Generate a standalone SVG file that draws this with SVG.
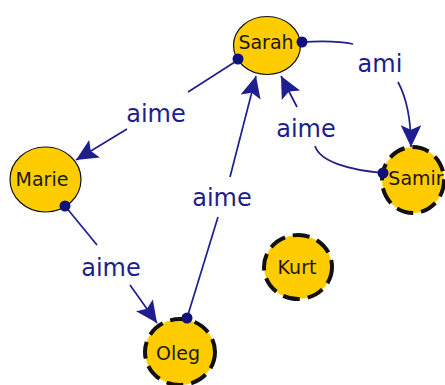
<svg xmlns="http://www.w3.org/2000/svg" width="445" height="385" viewBox="0 0 445 385">
  <style>
    .node { fill: #ffcc00; stroke: #111; stroke-width: 1.2; }
    .node.dashed { stroke-width: 4; stroke-dasharray: 17 8; }
    .name { font-family: "DejaVu Sans", Verdana, sans-serif; font-size: 19px; fill: #1a1a00; text-anchor: middle; }
    .edge { fill: none; stroke: #1e1e8e; stroke-width: 1.7; }
    .port { fill: #10107a; }
    .label { font-family: "DejaVu Sans", Verdana, sans-serif; font-size: 24px; fill: #1e1e8a; text-anchor: middle; }
  </style>
  <defs>
    <marker id="arrow" markerUnits="userSpaceOnUse" markerWidth="26" markerHeight="26" viewBox="-22 -11 24 22" refX="0" refY="0" orient="auto">
      <path d="M0,0 L-20,-9.5 L-16,0 L-20,9.5 Z" fill="#1e1e8e"/>
    </marker>
  </defs>

  <!-- nodes -->
  <g id="sarah">
    <ellipse class="node" cx="267" cy="45.5" rx="33.5" ry="29"/>
    <text class="name" x="266" y="49">Sarah</text>
  </g>
  <g id="marie">
    <ellipse class="node" cx="45.5" cy="179.5" rx="35.5" ry="32.5"/>
    <text class="name" x="42" y="186">Marie</text>
  </g>
  <g id="oleg">
    <ellipse class="node dashed" cx="180" cy="352" rx="35" ry="33"/>
    <text class="name" x="178" y="360">Oleg</text>
  </g>
  <g id="kurt">
    <ellipse class="node dashed" cx="298" cy="267" rx="34" ry="32"/>
    <text class="name" x="297" y="274">Kurt</text>
  </g>
  <g id="samir">
    <ellipse class="node dashed" cx="413" cy="180" rx="31" ry="33"/>
    <text class="name" x="416" y="185">Samir</text>
  </g>

  <!-- connectors -->
  <g id="connectors">
    <!-- Sarah aime Marie -->
    <path class="edge" d="M238,60 L188,92"/>
    <path class="edge" d="M127,129 L76,160" marker-end="url(#arrow)"/>
    <text class="label" x="156" y="122">aime</text>
    <circle class="port" cx="238" cy="59" r="5.5"/>

    <!-- Marie aime Oleg -->
    <path class="edge" d="M65,206 L97,245"/>
    <path class="edge" d="M130,285 L157,323" marker-end="url(#arrow)"/>
    <text class="label" x="111" y="276">aime</text>
    <circle class="port" cx="65" cy="206" r="5.5"/>

    <!-- Oleg aime Sarah -->
    <path class="edge" d="M187,318 L218,217"/>
    <path class="edge" d="M230,177 L256,76" marker-end="url(#arrow)"/>
    <text class="label" x="222" y="206">aime</text>
    <circle class="port" cx="187" cy="318" r="5.5"/>

    <!-- Samir aime Sarah -->
    <path class="edge" d="M383,173 C350,170 320,162 315,146"/>
    <path class="edge" d="M297,107 L281,76" marker-end="url(#arrow)"/>
    <text class="label" x="306" y="137">aime</text>
    <circle class="port" cx="383" cy="173" r="5.5"/>

    <!-- Sarah ami Samir -->
    <path class="edge" d="M302,42 C322,41 340,41 353,44"/>
    <path class="edge" d="M398,82 C405,95 411,115 411,147" marker-end="url(#arrow)"/>
    <text class="label" x="380" y="72">ami</text>
    <circle class="port" cx="302" cy="42" r="5.5"/>
  </g>
</svg>
